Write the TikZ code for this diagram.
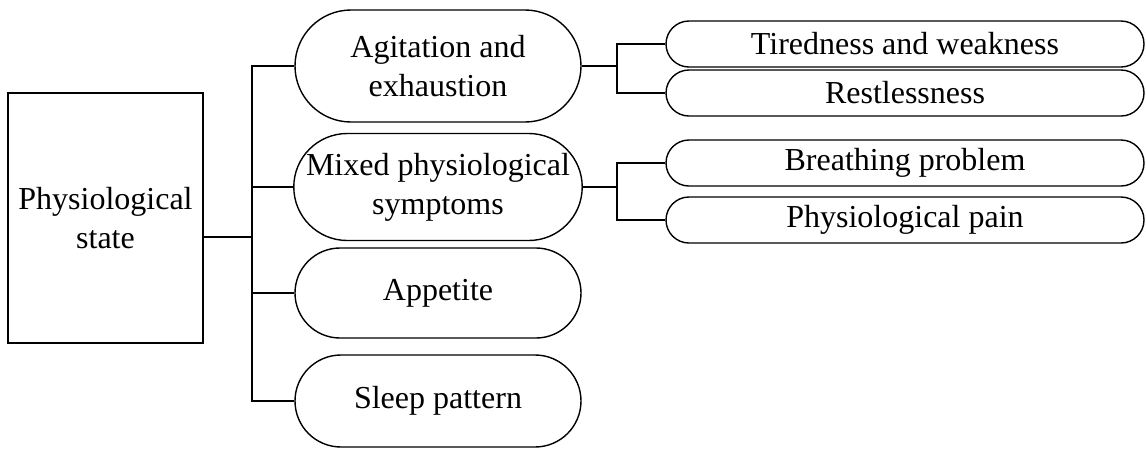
\documentclass[tikz,border=0pt]{standalone}
\usepackage{fontspec}
\setmainfont{Liberation Serif}
\usetikzlibrary{positioning,shapes.misc}

\begin{document}
\begin{tikzpicture}[x=1pt,y=-1pt,line width=1.4pt,font=\fontsize{32}{39}\selectfont,
state/.style={rectangle,draw,align=center,minimum width=195pt,minimum height=250pt,inner sep=0pt},
pill/.style={rounded rectangle,draw,align=center,minimum width=286pt,inner sep=0pt},
subpill/.style={rounded rectangle,draw,align=center,minimum width=478pt,minimum height=46pt,inner sep=0pt},
link/.style={draw}]
\useasboundingbox (0,0) rectangle (1146,448);
\node[state](ps) at (105.5,218){Physiological\\state};
\node[pill,minimum height=112pt](agit) at (438,66){Agitation and\\exhaustion};
\node[pill,minimum height=107pt](mixed) at (438,187){Mixed physiological\\symptoms};
\node[pill,minimum height=90pt](appe) at (438,293){Appetite};
\node[pill,minimum height=92pt](sleep) at (438,401){Sleep pattern};
\node[subpill](tired) at (905,44){Tiredness and weakness};
\node[subpill](rest) at (905,93){Restlessness};
\node[subpill](breath) at (905,163){Breathing problem};
\node[subpill](pain) at (905,220){Physiological pain};
\coordinate (j) at (252,237);
\coordinate (ja) at (617,66);
\coordinate (jm) at (617,187);
\draw[link](ps.east|-j)--(j);
\foreach \n in {agit,mixed,appe,sleep}{\draw[link](\n.west)-|(j);}
\draw[link](agit.east)--(ja);
\draw[link](mixed.east)--(jm);
\foreach \x/\y in {tired/ja,rest/ja,breath/jm,pain/jm}{\draw[link](\x.west)-|(\y);}
\end{tikzpicture}
\end{document}
